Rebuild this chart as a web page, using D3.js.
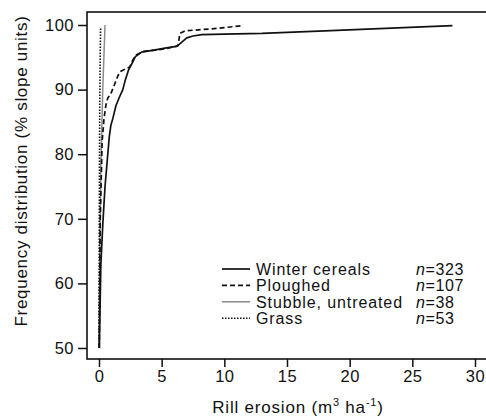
<!DOCTYPE html>
<html>
<head>
<meta charset="utf-8">
<script src="https://cdn.jsdelivr.net/npm/d3@7"></script>
<style>
  html, body { margin: 0; padding: 0; background: #fff; }
  svg { display: block; font-family: "Liberation Sans", Arial, sans-serif; }
</style>
</head>
<body>
<svg id="chart" width="486" height="418"></svg>
<script>
// Winter cereals
const winterX = [0.03, 0.1, 0.15, 0.3, 0.48, 0.82, 0.95, 1.1, 1.35, 1.6, 1.9, 2.1, 2.35, 2.7, 2.9, 3.1, 3.4, 4.0, 4.6, 5.5, 6.2, 6.4, 7.0, 7.5, 8.2, 10, 13, 18, 28.2];
const winterY = [50, 58, 63, 69, 75, 82.7, 84.5, 85.5, 87.5, 88.7, 90, 91.5, 93, 94.3, 95.1, 95.4, 95.8, 96.0, 96.2, 96.5, 96.7, 97.0, 98.0, 98.3, 98.5, 98.6, 98.7, 99.1, 99.9];
// Ploughed
const ploughX = [0.02, 0.1, 0.25, 0.4, 0.55, 0.7, 0.93, 1.2, 1.5, 1.7, 2.45, 2.7, 3.0, 3.5, 4.5, 5.5, 6.3, 6.46, 6.86, 9, 11.5];
const ploughY = [50, 70, 82, 85.5, 87.6, 88.7, 89.3, 90.6, 92.1, 92.8, 93.5, 94.6, 95.4, 95.9, 96.1, 96.4, 96.8, 98.7, 99.1, 99.4, 99.9];
// Stubble, untreated
const stubbleX = [0, 0.05, 0.15, 0.3, 0.48];
const stubbleY = [50, 62, 78, 90, 100];
// Grass
const grassX = [0, 0.03, 0.06, 0.1, 0.13];
const grassY = [50, 75, 88, 96, 99.7];

const legendNames = ["Winter cereals", "Ploughed", "Stubble, untreated", "Grass"];
const legendN = ["323", "107", "38", "53"];
const xTicks = [0, 5, 10, 15, 20, 25, 30];
const yTicks = [50, 60, 70, 80, 90, 100];

const svg = d3.select("#chart");

// plot box (right side runs off the picture)
const box = { left: 87, top: 12, right: 498, bottom: 359 };

const x = d3.scaleLinear().domain([0, 30]).range([99, 475]);
const y = d3.scaleLinear().domain([50, 100]).range([348, 25]);

svg.append("rect")
  .attr("x", box.left).attr("y", box.top)
  .attr("width", box.right - box.left).attr("height", box.bottom - box.top)
  .attr("fill", "none").attr("stroke", "#111").attr("stroke-width", 1.6);

// axes
const xAxis = svg.append("g")
  .attr("transform", `translate(0,${box.bottom})`)
  .call(d3.axisBottom(x).tickValues(xTicks).tickSize(8).tickPadding(3).tickFormat(d3.format("d")));
const yAxis = svg.append("g")
  .attr("transform", `translate(${box.left},0)`)
  .call(d3.axisLeft(y).tickValues(yTicks).tickSize(9).tickPadding(4).tickFormat(d3.format("d")));

[xAxis, yAxis].forEach(a => {
  a.select(".domain").remove();
  a.selectAll("line").attr("stroke", "#111").attr("stroke-width", 1.5);
  a.selectAll("text").attr("fill", "#111")
    .style("font-size", "16.5px").style("letter-spacing", "0.5px")
    .style("font-family", "Liberation Sans, Arial, sans-serif");
});

// axis titles
const xt = svg.append("text")
  .attr("x", 298).attr("y", 413)
  .attr("text-anchor", "middle")
  .style("font-size", "17px").style("letter-spacing", "0.8px").attr("fill", "#111");
xt.append("tspan").text("Rill erosion (m");
xt.append("tspan").attr("dy", -7).style("font-size", "11px").text("3");
xt.append("tspan").attr("dy", 7).text(" ha");
xt.append("tspan").attr("dy", -7).style("font-size", "11px").text("-1");
xt.append("tspan").attr("dy", 7).text(")");

svg.append("text")
  .attr("transform", "translate(27,171) rotate(-90)")
  .attr("text-anchor", "middle")
  .style("font-size", "17px").style("letter-spacing", "0.7px").attr("fill", "#111")
  .text("Frequency distribution (% slope units)");

// series
const series = [
  { xs: stubbleX, ys: stubbleY, color: "#8c8c8c", dash: null, w: 1.5 },
  { xs: grassX, ys: grassY, color: "#111", dash: "1.5,1.5", w: 1.6 },
  { xs: ploughX, ys: ploughY, color: "#111", dash: "5,3", w: 1.7 },
  { xs: winterX, ys: winterY, color: "#111", dash: null, w: 1.7 }
];

const line = d3.line().x(d => x(d[0])).y(d => y(d[1]));

svg.append("g").selectAll("path")
  .data(series)
  .enter().append("path")
  .attr("d", s => line(s.xs.map((v, i) => [v, s.ys[i]])))
  .attr("fill", "none")
  .attr("stroke", s => s.color)
  .attr("stroke-width", s => s.w)
  .attr("stroke-dasharray", s => s.dash)
  .attr("stroke-linejoin", "round");

// legend
const legendStyles = [series[3], series[2], series[0], series[1]];
const rows = svg.append("g").selectAll("g")
  .data(legendNames)
  .enter().append("g")
  .attr("transform", (d, i) => `translate(0,${269 + i * 16.4})`);

rows.append("line")
  .attr("x1", 222).attr("x2", 250)
  .attr("y1", 0).attr("y2", 0)
  .attr("stroke", (d, i) => legendStyles[i].color)
  .attr("stroke-width", (d, i) => legendStyles[i].w)
  .attr("stroke-dasharray", (d, i) => legendStyles[i].dash);

rows.append("text")
  .attr("x", 256).attr("y", 6)
  .style("font-size", "16px").style("letter-spacing", "0.9px").attr("fill", "#111")
  .text(d => d);

const nt = rows.append("text")
  .attr("x", 416).attr("y", 6)
  .style("font-size", "16px").style("letter-spacing", "0.6px").attr("fill", "#111");
nt.append("tspan").style("font-style", "italic").text("n");
nt.append("tspan").text((d, i) => "=" + legendN[i]);
</script>
</body>
</html>
